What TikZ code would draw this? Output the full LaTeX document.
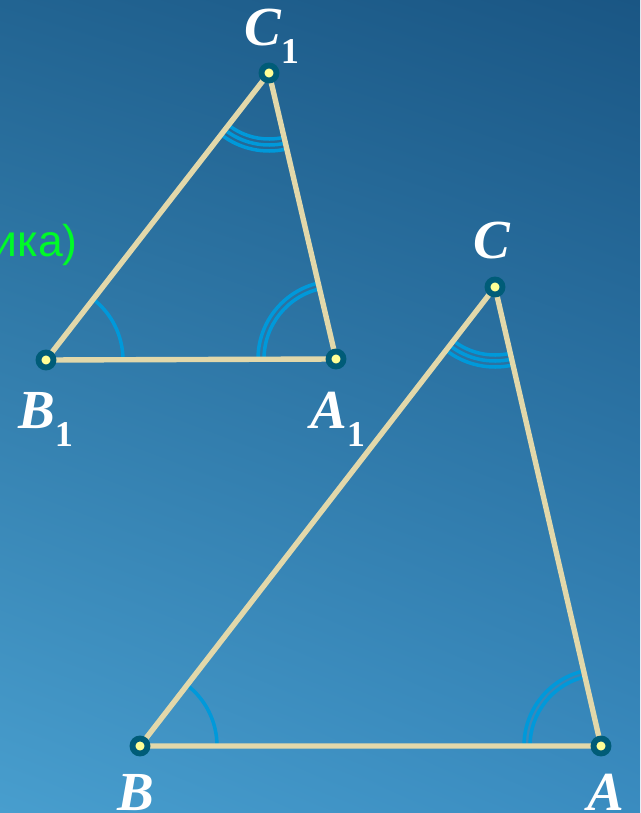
\documentclass[tikz,border=0pt]{standalone}
\usepackage{fontspec}
\usetikzlibrary{shadings}
\setmainfont{Liberation Serif}
\newfontfamily\greekish{Liberation Sans}
\definecolor{bgUL}{RGB}{34,100,146}
\definecolor{bgUR}{RGB}{26,86,132}
\definecolor{bgLL}{RGB}{72,158,206}
\definecolor{bgLR}{RGB}{58,140,192}
\definecolor{side}{RGB}{226,216,170}
\definecolor{arcblue}{RGB}{0,153,218}
\definecolor{dotout}{RGB}{0,92,120}
\definecolor{dotin}{RGB}{255,255,150}
\definecolor{txtgreen}{RGB}{0,250,40}
\newcommand\lowidx[1]{\raisebox{-15.5pt}{\upshape\fontsize{31}{31}\selectfont #1}}
\begin{document}
\begin{tikzpicture}[x=0.03cm,y=0.03cm,
    side/.style={draw=side,line width=4.6pt,line cap=round},
    angmark/.style={draw=arcblue,line width=3pt},
    vlabel/.style={anchor=base west,inner sep=0pt,text=white,font=\fontsize{47}{47}\selectfont\bfseries\itshape}]
    \useasboundingbox (0,0) rectangle (640,-813);
    \shade[upper left=bgUL,upper right=bgUR,lower left=bgLL,lower right=bgLR] (0,0) rectangle (640,-813);
    % vertices
    \coordinate (C1) at (269,-73);
    \coordinate (B1) at (46,-360);
    \coordinate (A1) at (336,-359);
    \coordinate (C) at (495,-287);
    \coordinate (B) at (140,-746);
    \coordinate (A) at (601,-746);
    % angle marks
    \draw[angmark] ([shift={(0:77)}]B1) arc (0:52.2:77);
    \draw[angmark] ([shift={(103.2:72)}]A1) arc (103.2:180:72);
    \draw[angmark] ([shift={(103.2:78)}]A1) arc (103.2:180:78);
    \draw[angmark] ([shift={(232.2:66)}]C1) arc (232.2:283.2:66);
    \draw[angmark] ([shift={(232.2:72)}]C1) arc (232.2:283.2:72);
    \draw[angmark] ([shift={(232.2:78)}]C1) arc (232.2:283.2:78);
    \draw[angmark] ([shift={(0:77)}]B) arc (0:52.3:77);
    \draw[angmark] ([shift={(103:71)}]A) arc (103:180:71);
    \draw[angmark] ([shift={(103:77)}]A) arc (103:180:77);
    \draw[angmark] ([shift={(232.3:68)}]C) arc (232.3:283:68);
    \draw[angmark] ([shift={(232.3:74)}]C) arc (232.3:283:74);
    \draw[angmark] ([shift={(232.3:80)}]C) arc (232.3:283:80);
    % sides
    \draw[side] (B1) -- (C1) -- (A1) -- cycle;
    \draw[side] (B) -- (C) -- (A) -- cycle;
    % points
    \foreach \p in {A1,B1,C1,A,B,C}{
      \filldraw[fill=dotin,draw=dotout,line width=5pt] (\p) circle (7.5);
    }
    \node[vlabel] (lC1) at (244,-45) {C\lowidx{1}};
    \node[vlabel] (lB1) at (18,-428) {B\lowidx{1}};
    \node[vlabel] (lA1) at (310,-428) {A\lowidx{1}};
    \node[vlabel] (lC) at (473,-258) {C};
    \node[vlabel] (lB) at (117,-810) {B};
    \node[vlabel] (lA) at (587,-810) {A};
    \node[anchor=base east,inner sep=0pt,text=txtgreen,font=\greekish\fontsize{38}{38}\selectfont] (note) at (78,-256) {ика)};
\end{tikzpicture}
\end{document}
